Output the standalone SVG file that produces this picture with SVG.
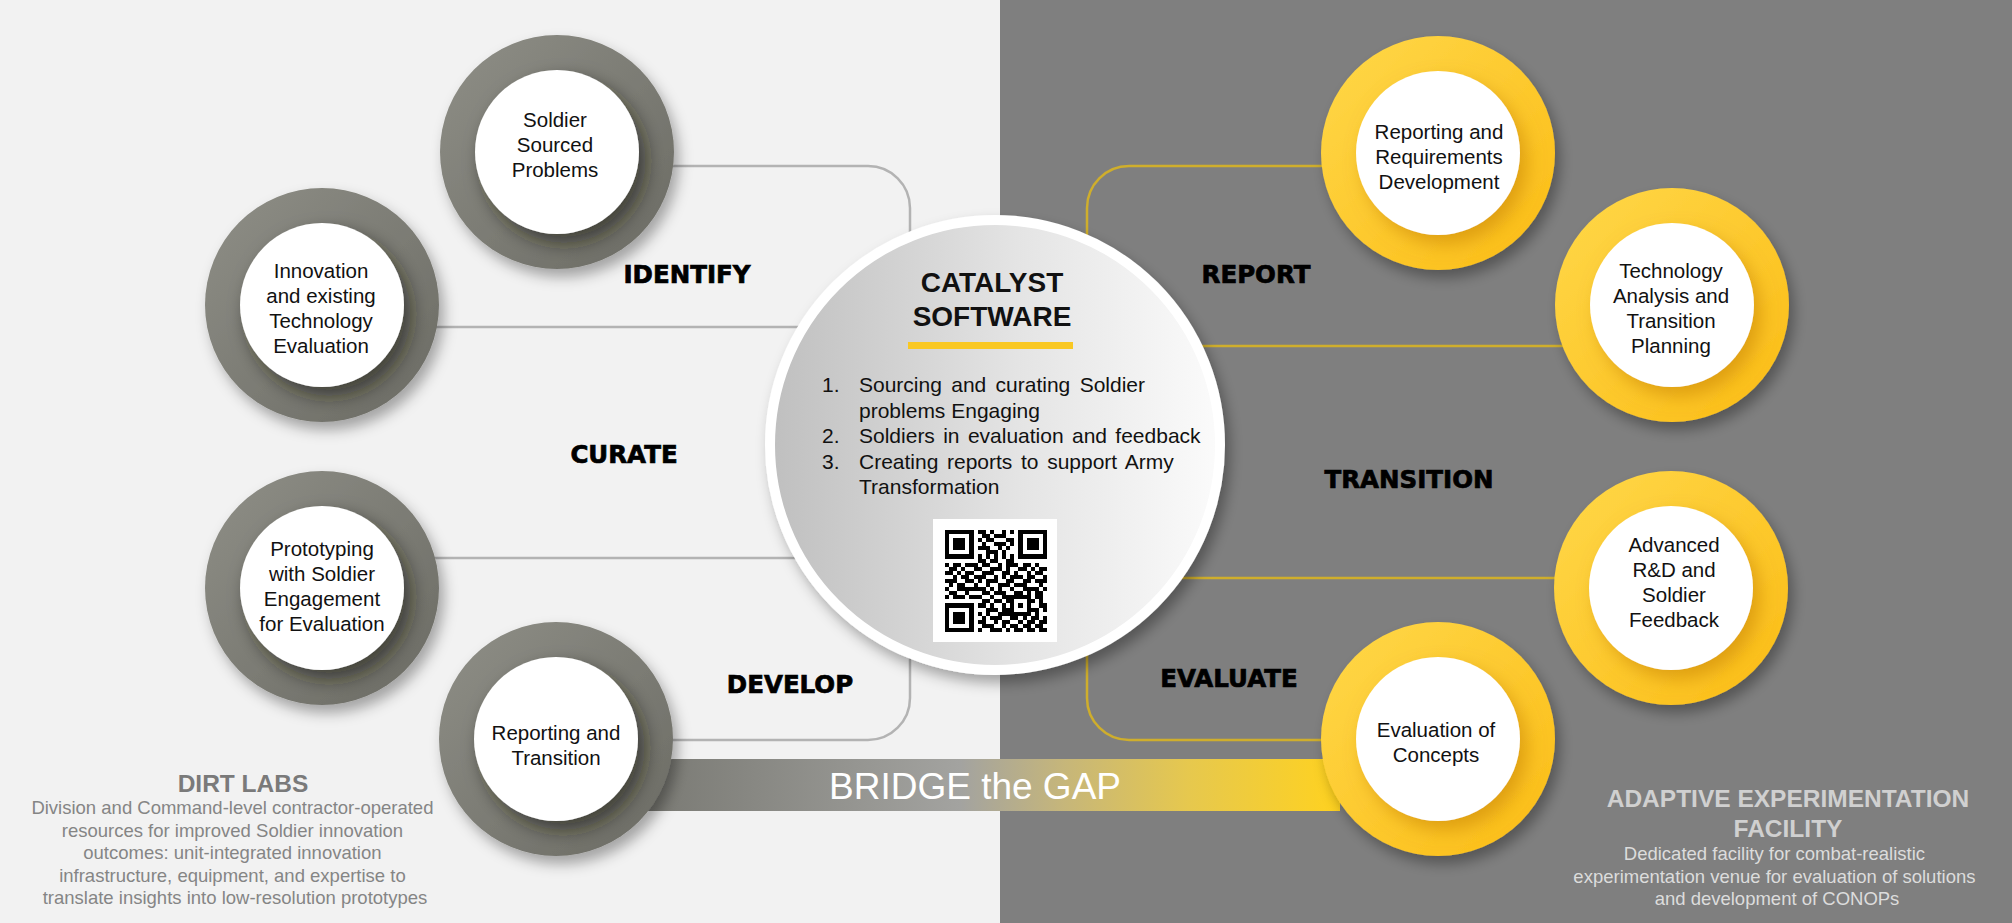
<svg xmlns="http://www.w3.org/2000/svg" width="2012" height="923" viewBox="0 0 2012 923">
<defs>
<style>
.nt{font-family:"Liberation Sans",Arial,sans-serif;font-size:20.5px;fill:#111;text-anchor:middle}
.lbl{font-family:"DejaVu Sans",sans-serif;font-weight:bold;font-size:24.5px;fill:#000;stroke:#000;stroke-width:0.7px;text-anchor:middle}
.cl{fill:none;stroke:#b3b3b3;stroke-width:2.5}
.yl{fill:none;stroke:#cfae2c;stroke-width:2.5}
.li{font-family:"Liberation Sans",Arial,sans-serif;font-size:21px;fill:#111}
.ttl{font-family:"Liberation Sans",Arial,sans-serif;font-weight:bold;font-size:28px;fill:#111;text-anchor:middle}
.dsc{font-family:"Liberation Sans",Arial,sans-serif;font-size:18.5px;text-anchor:middle}
.hd{font-family:"Liberation Sans",Arial,sans-serif;font-weight:bold;font-size:24.5px;text-anchor:middle}
</style>
<linearGradient id="gGray" x1="0" y1="0" x2="1" y2="1">
<stop offset="0" stop-color="#8f8f87"/><stop offset="1" stop-color="#6a6a63"/>
</linearGradient>
<linearGradient id="gYel" x1="0" y1="0" x2="1" y2="1">
<stop offset="0" stop-color="#ffd84a"/><stop offset="1" stop-color="#fbbc14"/>
</linearGradient>
<linearGradient id="gCenter" x1="0" y1="0" x2="1" y2="0">
<stop offset="0" stop-color="#bfbfbf"/><stop offset="0.55" stop-color="#e4e4e4"/><stop offset="1" stop-color="#fbfbfb"/>
</linearGradient>
<linearGradient id="gBand" gradientUnits="userSpaceOnUse" x1="650" y1="0" x2="1340" y2="0">
<stop offset="0" stop-color="#7a7a74"/><stop offset="0.45" stop-color="#a3a3a0"/><stop offset="0.6" stop-color="#c6b67a"/><stop offset="0.78" stop-color="#e6c84e"/><stop offset="1" stop-color="#ffd21f"/>
</linearGradient>
<filter id="shOut" x="-30%" y="-30%" width="170%" height="170%">
<feDropShadow dx="5" dy="8" stdDeviation="7" flood-color="#000" flood-opacity="0.33"/>
</filter>
<filter id="shIn" x="-30%" y="-30%" width="170%" height="170%">
<feDropShadow dx="7" dy="9" stdDeviation="9" flood-color="#1a1a16" flood-opacity="0.6"/>
</filter>
<filter id="shInY" x="-30%" y="-30%" width="170%" height="170%">
<feDropShadow dx="7" dy="9" stdDeviation="9" flood-color="#c07a00" flood-opacity="0.5"/>
</filter>
</defs>

<rect x="0" y="0" width="1000" height="923" fill="#f2f2f2"/>
<rect x="1000" y="0" width="1012" height="923" fill="#7f7f7f"/>

<g id="connectors">
<path class="cl" d="M600 166 H868 A42 42 0 0 1 910 208 V300"/>
<path class="cl" d="M400 327 H820"/>
<path class="cl" d="M400 558 H820"/>
<path class="cl" d="M600 740 H868 A42 42 0 0 0 910 698 V600"/>
<path class="yl" d="M1400 166 H1129 A42 42 0 0 0 1087 208 V300"/>
<path class="yl" d="M1180 346 H1600"/>
<path class="yl" d="M1180 578 H1600"/>
<path class="yl" d="M1400 740 H1129 A42 42 0 0 1 1087 698 V600"/>
</g>

<g id="bridge">
<rect x="560" y="759" width="780" height="52" fill="url(#gBand)"/>
<text x="975" y="799" font-family="Liberation Sans, Arial, sans-serif" font-size="37" fill="#ffffff" text-anchor="middle">BRIDGE the GAP</text>
</g>

<g id="n-soldier-sourced" transform="translate(557 152)">
<circle r="117" fill="url(#gGray)" filter="url(#shOut)"/>
<circle r="82" fill="#fff" filter="url(#shIn)"/>
</g>
<text class="nt"><tspan x="555" y="127">Soldier</tspan><tspan x="555" y="152">Sourced</tspan><tspan x="555" y="177">Problems</tspan></text>

<g id="n-innovation" transform="translate(322 305)">
<circle r="117" fill="url(#gGray)" filter="url(#shOut)"/>
<circle r="82" fill="#fff" filter="url(#shIn)"/>
</g>
<text class="nt"><tspan x="321" y="278">Innovation</tspan><tspan x="321" y="303">and existing</tspan><tspan x="321" y="328">Technology</tspan><tspan x="321" y="353">Evaluation</tspan></text>

<g id="n-prototyping" transform="translate(322 588)">
<circle r="117" fill="url(#gGray)" filter="url(#shOut)"/>
<circle r="82" fill="#fff" filter="url(#shIn)"/>
</g>
<text class="nt"><tspan x="322" y="556">Prototyping</tspan><tspan x="322" y="581">with Soldier</tspan><tspan x="322" y="606">Engagement</tspan><tspan x="322" y="631">for Evaluation</tspan></text>

<g id="n-reporting-transition" transform="translate(556 739)">
<circle r="117" fill="url(#gGray)" filter="url(#shOut)"/>
<circle r="82" fill="#fff" filter="url(#shIn)"/>
</g>
<text class="nt"><tspan x="556" y="740">Reporting and</tspan><tspan x="556" y="765">Transition</tspan></text>

<g id="n-reporting-requirements" transform="translate(1438 153)">
<circle r="117" fill="url(#gYel)" filter="url(#shOut)"/>
<circle r="82" fill="#fff" filter="url(#shInY)"/>
</g>
<text class="nt"><tspan x="1439" y="139">Reporting and</tspan><tspan x="1439" y="164">Requirements</tspan><tspan x="1439" y="189">Development</tspan></text>

<g id="n-technology-analysis" transform="translate(1672 305)">
<circle r="117" fill="url(#gYel)" filter="url(#shOut)"/>
<circle r="82" fill="#fff" filter="url(#shInY)"/>
</g>
<text class="nt"><tspan x="1671" y="278">Technology</tspan><tspan x="1671" y="303">Analysis and</tspan><tspan x="1671" y="328">Transition</tspan><tspan x="1671" y="353">Planning</tspan></text>

<g id="n-advanced-rd" transform="translate(1671 588)">
<circle r="117" fill="url(#gYel)" filter="url(#shOut)"/>
<circle r="82" fill="#fff" filter="url(#shInY)"/>
</g>
<text class="nt"><tspan x="1674" y="552">Advanced</tspan><tspan x="1674" y="577">R&amp;D and</tspan><tspan x="1674" y="602">Soldier</tspan><tspan x="1674" y="627">Feedback</tspan></text>

<g id="n-evaluation-concepts" transform="translate(1438 739)">
<circle r="117" fill="url(#gYel)" filter="url(#shOut)"/>
<circle r="82" fill="#fff" filter="url(#shInY)"/>
</g>
<text class="nt"><tspan x="1436" y="737">Evaluation of</tspan><tspan x="1436" y="762">Concepts</tspan></text>

<g id="n-catalyst">
<circle cx="995" cy="445" r="225" fill="url(#gCenter)" stroke="#ffffff" stroke-width="10" filter="url(#shOut)"/>
<text class="ttl"><tspan x="992" y="292">CATALYST</tspan><tspan x="992" y="326">SOFTWARE</tspan></text>
<rect x="908" y="342" width="165" height="7" fill="#f9c823"/>
<text class="li">
<tspan x="822" y="392">1.</tspan><tspan x="859" y="392" word-spacing="3.5">Sourcing and curating Soldier</tspan>
<tspan x="859" y="417.5">problems Engaging</tspan>
<tspan x="822" y="443">2.</tspan><tspan x="859" y="443" word-spacing="2.5">Soldiers in evaluation and feedback</tspan>
<tspan x="822" y="468.5">3.</tspan><tspan x="859" y="468.5" word-spacing="2.8">Creating reports to support Army</tspan>
<tspan x="859" y="494">Transformation</tspan>
</text>
<rect x="933" y="519" width="124" height="123" fill="#ffffff"/>
<path transform="translate(945 530) scale(4.08)" fill="#000" shape-rendering="crispEdges" d="M0 0h7v1h-7z M8 0h2v1h-2z M11 0h1v1h-1z M14 0h1v1h-1z M16 0h1v1h-1z M18 0h7v1h-7z
M0 1h1v1h-1z M6 1h1v1h-1z M9 1h2v1h-2z M12 1h3v1h-3z M18 1h1v1h-1z M24 1h1v1h-1z
M0 2h1v1h-1z M2 2h3v1h-3z M6 2h1v1h-1z M8 2h1v1h-1z M10 2h2v1h-2z M15 2h2v1h-2z M18 2h1v1h-1z M20 2h3v1h-3z M24 2h1v1h-1z
M0 3h1v1h-1z M2 3h3v1h-3z M6 3h1v1h-1z M9 3h1v1h-1z M12 3h3v1h-3z M16 3h1v1h-1z M18 3h1v1h-1z M20 3h3v1h-3z M24 3h1v1h-1z
M0 4h1v1h-1z M2 4h3v1h-3z M6 4h1v1h-1z M8 4h3v1h-3z M13 4h1v1h-1z M15 4h1v1h-1z M18 4h1v1h-1z M20 4h3v1h-3z M24 4h1v1h-1z
M0 5h1v1h-1z M6 5h1v1h-1z M10 5h3v1h-3z M14 5h1v1h-1z M18 5h1v1h-1z M24 5h1v1h-1z
M0 6h7v1h-7z M8 6h1v1h-1z M10 6h1v1h-1z M12 6h1v1h-1z M14 6h1v1h-1z M16 6h1v1h-1z M18 6h7v1h-7z
M8 7h2v1h-2z M11 7h2v1h-2z M15 7h2v1h-2z
M0 8h1v1h-1z M2 8h2v1h-2z M5 8h3v1h-3z M9 8h2v1h-2z M13 8h1v1h-1z M15 8h3v1h-3z M19 8h2v1h-2z M22 8h1v1h-1z
M1 9h2v1h-2z M4 9h1v1h-1z M7 9h2v1h-2z M11 9h3v1h-3z M15 9h1v1h-1z M18 9h2v1h-2z M21 9h1v1h-1z M23 9h2v1h-2z
M0 10h2v1h-2z M3 10h1v1h-1z M5 10h2v1h-2z M9 10h3v1h-3z M14 10h2v1h-2z M17 10h1v1h-1z M20 10h1v1h-1z M22 10h2v1h-2z
M2 11h1v1h-1z M4 11h2v1h-2z M7 11h3v1h-3z M12 11h1v1h-1z M14 11h1v1h-1z M16 11h3v1h-3z M20 11h2v1h-2z M24 11h1v1h-1z
M0 12h3v1h-3z M5 12h2v1h-2z M8 12h1v1h-1z M10 12h3v1h-3z M15 12h2v1h-2z M19 12h2v1h-2z M22 12h3v1h-3z
M1 13h1v1h-1z M3 13h2v1h-2z M7 13h1v1h-1z M10 13h1v1h-1z M13 13h3v1h-3z M17 13h3v1h-3z M23 13h1v1h-1z
M0 14h1v1h-1z M3 14h7v1h-7z M11 14h1v1h-1z M13 14h1v1h-1z M16 14h1v1h-1z M19 14h4v1h-4z M24 14h1v1h-1z
M1 15h2v1h-2z M5 15h1v1h-1z M9 15h2v1h-2z M12 15h3v1h-3z M17 15h2v1h-2z M20 15h1v1h-1z M22 15h2v1h-2z
M0 16h1v1h-1z M2 16h3v1h-3z M6 16h3v1h-3z M11 16h1v1h-1z M14 16h7v1h-7z M22 16h2v1h-2z
M9 17h2v1h-2z M12 17h2v1h-2z M15 17h2v1h-2z M20 17h2v1h-2z M23 17h1v1h-1z
M0 18h7v1h-7z M8 18h2v1h-2z M11 18h1v1h-1z M14 18h1v1h-1z M16 18h1v1h-1z M18 18h1v1h-1z M20 18h1v1h-1z M23 18h2v1h-2z
M0 19h1v1h-1z M6 19h1v1h-1z M10 19h3v1h-3z M14 19h3v1h-3z M20 19h3v1h-3z M24 19h1v1h-1z
M0 20h1v1h-1z M2 20h3v1h-3z M6 20h1v1h-1z M8 20h1v1h-1z M10 20h1v1h-1z M13 20h8v1h-8z M22 20h1v1h-1z
M0 21h1v1h-1z M2 21h3v1h-3z M6 21h1v1h-1z M9 21h1v1h-1z M11 21h3v1h-3z M16 21h2v1h-2z M19 21h1v1h-1z M21 21h2v1h-2z M24 21h1v1h-1z
M0 22h1v1h-1z M2 22h3v1h-3z M6 22h1v1h-1z M8 22h2v1h-2z M12 22h1v1h-1z M14 22h2v1h-2z M18 22h1v1h-1z M20 22h2v1h-2z M23 22h2v1h-2z
M0 23h1v1h-1z M6 23h1v1h-1z M9 23h3v1h-3z M14 23h1v1h-1z M16 23h2v1h-2z M19 23h2v1h-2z M22 23h2v1h-2z
M0 24h7v1h-7z M8 24h1v1h-1z M11 24h3v1h-3z M15 24h1v1h-1z M17 24h2v1h-2z M20 24h2v1h-2z M23 24h2v1h-2z"/>
</g>

<g id="labels">
<text class="lbl" x="687" y="283">IDENTIFY</text>
<text class="lbl" x="624" y="463">CURATE</text>
<text class="lbl" x="790" y="693">DEVELOP</text>
<text class="lbl" x="1256" y="283">REPORT</text>
<text class="lbl" x="1409" y="488">TRANSITION</text>
<text class="lbl" x="1229" y="687">EVALUATE</text>
</g>

<g id="dirt-labs">
<text class="hd" x="243" y="792" fill="#7a7a7a">DIRT LABS</text>
<text class="dsc" fill="#858585">
<tspan x="235" y="814">Division and Command-level contractor-operated</tspan>
<tspan x="235" y="837">resources for improved Soldier innovation</tspan>
<tspan x="235" y="859">outcomes: unit-integrated innovation</tspan>
<tspan x="235" y="882">infrastructure, equipment, and expertise to</tspan>
<tspan x="235" y="904">translate insights into low-resolution prototypes</tspan>
</text>
</g>

<g id="adaptive-facility">
<text class="hd" fill="#d0d0d0"><tspan x="1788" y="807">ADAPTIVE EXPERIMENTATION</tspan><tspan x="1788" y="837">FACILITY</tspan></text>
<text class="dsc" fill="#dcdcdc">
<tspan x="1777" y="860">Dedicated facility for combat-realistic</tspan>
<tspan x="1777" y="883">experimentation venue for evaluation of solutions</tspan>
<tspan x="1777" y="905">and development of CONOPs</tspan>
</text>
</g>
</svg>
